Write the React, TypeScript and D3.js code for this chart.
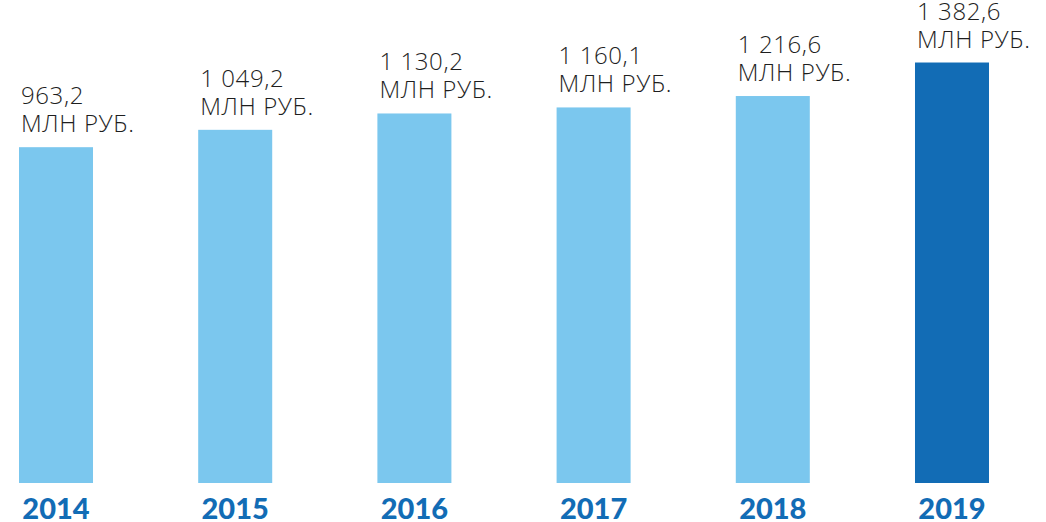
import React from "react";
import * as d3 from "d3";

const years = ["2014", "2015", "2016", "2017", "2018", "2019"];
const values = [963.2, 1049.2, 1130.2, 1160.1, 1216.6, 1382.6];
const valueLabels = ["963,2", "1 049,2", "1 130,2", "1 160,1", "1 216,6", "1 382,6"];
const unitLabel = "МЛН РУБ.";
const highlightYear = "2019";

const W = 1046;
const H = 522;
const baseline = 483;
const plotTop = 59;

const LIGHT = "#7BC7EE";
const DARK = "#126CB5";

export default function App() {
  const x = d3
    .scaleBand<string>()
    .domain(years)
    .range([19, 989])
    .paddingInner(0.587)
    .paddingOuter(0);
  const y = d3.scaleLinear().domain([-700, 1400]).range([baseline, plotTop]);

  const data = years.map((yr, i) => ({ yr, v: values[i], label: valueLabels[i] }));

  return (
    <svg
      width={W}
      height={H}
      viewBox={`0 0 ${W} ${H}`}
      style={{ position: "absolute", left: 0, top: 0, display: "block", background: "#fff" }}
    >
      {data.map((d) => {
        const bx = x(d.yr) as number;
        const top = y(d.v);
        return (
          <g key={d.yr}>
            <rect
              x={bx}
              y={top}
              width={x.bandwidth()}
              height={baseline - top}
              fill={d.yr === highlightYear ? DARK : LIGHT}
            />
            <text
              x={bx + 2}
              y={top - 15 - 28}
              fontFamily="'Open Sans', sans-serif"
              fontSize={24}
              fontWeight={300}
              letterSpacing={0.6}
              fill="#1e1e1e"
            >
              <tspan x={bx + 2}>{d.label}</tspan>
              <tspan x={bx + 2} dy={28}>{unitLabel}</tspan>
            </text>
            <text
              x={bx + x.bandwidth() / 2}
              y={519}
              textAnchor="middle"
              fontFamily="Lato, sans-serif"
              fontWeight={900}
              fontSize={29}
              fill={DARK}
            >
              {d.yr}
            </text>
          </g>
        );
      })}
    </svg>
  );
}
